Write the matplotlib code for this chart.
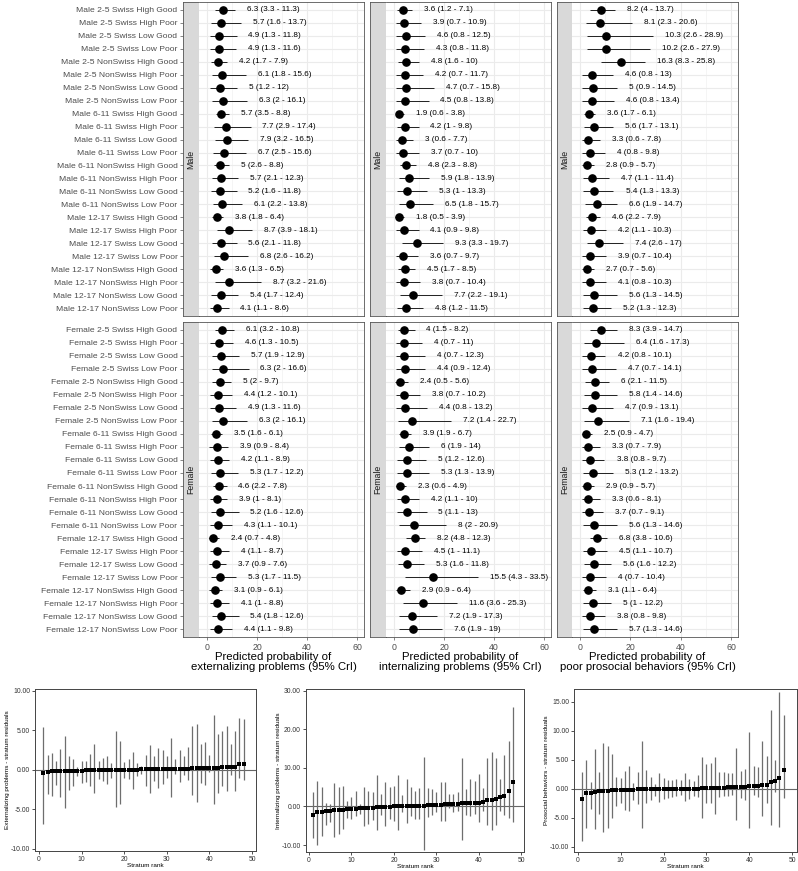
import matplotlib
matplotlib.use("Agg")
import matplotlib.pyplot as plt
from matplotlib.ticker import MultipleLocator, FormatStrFormatter

plt.rcParams['font.family'] = ['Liberation Sans', 'DejaVu Sans']

W, H = 798, 871

# strata (same order for both sexes)
strata = ["2-5 Swiss High Good", "2-5 Swiss High Poor", "2-5 Swiss Low Good", "2-5 Swiss Low Poor",
          "2-5 NonSwiss High Good", "2-5 NonSwiss High Poor", "2-5 NonSwiss Low Good", "2-5 NonSwiss Low Poor",
          "6-11 Swiss High Good", "6-11 Swiss High Poor", "6-11 Swiss Low Good", "6-11 Swiss Low Poor",
          "6-11 NonSwiss High Good", "6-11 NonSwiss High Poor", "6-11 NonSwiss Low Good", "6-11 NonSwiss Low Poor",
          "12-17 Swiss High Good", "12-17 Swiss High Poor", "12-17 Swiss Low Good", "12-17 Swiss Low Poor",
          "12-17 NonSwiss High Good", "12-17 NonSwiss High Poor", "12-17 NonSwiss Low Good", "12-17 NonSwiss Low Poor"]
sexes = ["Male", "Female"]

# externalizing (estimate, lower, upper)
ext_m_est = [6.3, 5.7, 4.9, 4.9, 4.2, 6.1, 5, 6.3, 5.7, 7.7, 7.9, 6.7, 5, 5.7, 5.2, 6.1, 3.8, 8.7, 5.6, 6.8, 3.6, 8.7, 5.4, 4.1]
ext_m_lo = [3.3, 1.6, 1.3, 1.3, 1.7, 1.8, 1.2, 2, 3.5, 2.9, 3.2, 2.5, 2.6, 2.1, 1.6, 2.2, 1.8, 3.9, 2.1, 2.6, 1.3, 3.2, 1.7, 1.1]
ext_m_hi = [11.3, 13.7, 11.8, 11.6, 7.9, 15.6, 12, 16.1, 8.8, 17.4, 16.5, 15.6, 8.8, 12.3, 11.8, 13.8, 6.4, 18.1, 11.8, 16.2, 6.5, 21.6, 12.4, 8.6]
ext_f_est = [6.1, 4.6, 5.7, 6.3, 5, 4.4, 4.9, 6.3, 3.5, 3.9, 4.2, 5.3, 4.6, 3.9, 5.2, 4.3, 2.4, 4, 3.7, 5.3, 3.1, 4.1, 5.4, 4.4]
ext_f_lo = [3.2, 1.3, 1.9, 2, 2, 1.2, 1.3, 2, 1.6, 0.9, 1.1, 1.7, 2.2, 1, 1.6, 1.1, 0.7, 1.1, 0.9, 1.7, 0.9, 1, 1.8, 1.1]
ext_f_hi = [10.8, 10.5, 12.9, 16.6, 9.7, 10.1, 11.6, 16.1, 6.1, 8.4, 8.9, 12.2, 7.8, 8.1, 12.6, 10.1, 4.8, 8.7, 7.6, 11.5, 6.1, 8.8, 12.6, 9.8]

# internalizing
int_m_est = [3.6, 3.9, 4.6, 4.3, 4.8, 4.2, 4.7, 4.5, 1.9, 4.2, 3, 3.7, 4.8, 5.9, 5.3, 6.5, 1.8, 4.1, 9.3, 3.6, 4.5, 3.8, 7.7, 4.8]
int_m_lo = [1.2, 0.7, 0.8, 0.8, 1.6, 0.7, 0.7, 0.8, 0.6, 1, 0.6, 0.7, 2.3, 1.8, 1, 1.8, 0.5, 0.9, 3.3, 0.7, 1.7, 0.7, 2.2, 1.2]
int_m_hi = [7.1, 10.9, 12.5, 11.8, 10, 11.7, 15.8, 13.8, 3.8, 9.8, 7.7, 10, 8.8, 13.9, 13.3, 15.7, 3.9, 9.8, 19.7, 9.7, 8.5, 10.4, 19.1, 11.5]
int_f_est = [4, 4, 4, 4.4, 2.4, 3.8, 4.4, 7.2, 3.9, 6, 5, 5.3, 2.3, 4.2, 5, 8, 8.2, 4.5, 5.3, 15.5, 2.9, 11.6, 7.2, 7.6]
int_f_lo = [1.5, 0.7, 0.7, 0.9, 0.5, 0.7, 0.8, 1.4, 1.9, 1.9, 1.2, 1.3, 0.6, 1.1, 1.1, 2, 4.8, 1, 1.6, 4.3, 0.9, 3.6, 1.9, 1.9]
int_f_hi = [8.2, 11, 12.3, 12.4, 5.6, 10.2, 13.2, 22.7, 6.7, 14, 12.6, 13.9, 4.9, 10, 13, 20.9, 12.3, 11.1, 11.8, 33.5, 6.4, 25.3, 17.3, 19]

# poor prosocial behaviors
pro_m_est = [8.2, 8.1, 10.3, 10.2, 16.3, 4.6, 5, 4.6, 3.6, 5.6, 3.3, 4, 2.8, 4.7, 5.4, 6.6, 4.6, 4.2, 7.4, 3.9, 2.7, 4.1, 5.6, 5.2]
pro_m_lo = [4, 2.3, 2.6, 2.6, 8.3, 0.8, 0.9, 0.8, 1.7, 1.7, 0.6, 0.8, 0.9, 1.1, 1.3, 1.9, 2.2, 1.1, 2.6, 0.7, 0.7, 0.8, 1.3, 1.3]
pro_m_hi = [13.7, 20.6, 28.9, 27.9, 25.8, 13, 14.5, 13.4, 6.1, 13.1, 7.8, 9.8, 5.7, 11.4, 13.3, 14.7, 7.9, 10.3, 17, 10.4, 5.6, 10.3, 14.5, 12.3]
pro_f_est = [8.3, 6.4, 4.2, 4.7, 6, 5.8, 4.7, 7.1, 2.5, 3.3, 3.8, 5.3, 2.9, 3.3, 3.7, 5.6, 6.8, 4.5, 5.6, 4, 3.1, 5, 3.8, 5.7]
pro_f_lo = [3.9, 1.6, 0.8, 0.7, 2.1, 1.4, 0.9, 1.6, 0.9, 0.7, 0.8, 1.2, 0.9, 0.6, 0.7, 1.3, 3.8, 1.1, 1.6, 0.7, 1.1, 1, 0.8, 1.3]
pro_f_hi = [14.7, 17.3, 10.1, 14.1, 11.5, 14.6, 13.1, 19.4, 4.7, 7.9, 9.7, 13.2, 5.7, 8.1, 9.1, 14.6, 10.6, 10.7, 12.2, 10.4, 6.4, 12.2, 9.8, 14.6]

outcome_titles = ["Predicted probability of\nexternalizing problems (95% CrI)",
                  "Predicted probability of\ninternalizing problems (95% CrI)",
                  "Predicted probability of\npoor prosocial behaviors (95% CrI)"]

# stratum residuals (ranked)
ext_res = [-0.38, -0.33, -0.2, -0.18, -0.16, -0.15, -0.14, -0.12, -0.11, -0.1,
           -0.09, -0.08, -0.07, -0.06, -0.05, -0.04, -0.03, -0.02, -0.01, 0.0,
           0.01, 0.02, 0.03, 0.04, 0.05, 0.06, 0.07, 0.08, 0.09, 0.1,
           0.11, 0.12, 0.13, 0.14, 0.15, 0.17, 0.18, 0.19, 0.2, 0.22,
           0.24, 0.27, 0.3, 0.32, 0.36, 0.4, 0.7, 0.72]
ext_res_lo = [-6.9, -3.1, -3.3, -1.9, -3.4, -4.8, -2.6, -2.0, -0.8, -1.7,
              -1.5, -2.0, -3.0, -1.2, -1.4, -1.8, -1.0, -4.7, -4.3, -1.1,
              -1.2, -2.5, -0.85, -0.5, -2.0, -2.9, -1.4, -2.3, -1.75, -1.0,
              -3.4, -0.5, -1.6, -0.7, -1.3, -3.25, -4.05, -1.7, -1.9, -0.3,
              -4.4, -3.0, -2.1, -2.65, -0.65, -2.7, -1.0, -1.3]
ext_res_hi = [5.4, 1.9, 2.1, 1.15, 2.6, 4.3, 1.8, 1.4, 0.4, 1.15,
              1.1, 2.05, 3.3, 1.15, 1.5, 1.8, 0.9, 4.9, 3.7, 1.0,
              1.4, 2.3, 0.9, 0.5, 1.9, 3.2, 1.8, 2.7, 2.5, 1.75,
              4.0, 1.4, 2.45, 1.8, 2.9, 5.6, 5.8, 3.3, 3.5, 1.9,
              6.9, 4.5, 4.9, 5.5, 3.3, 4.9, 6.5, 6.4]

int_res = [-2.2, -1.5, -1.35, -1.2, -1.1, -1.0, -0.9, -0.8, -0.7, -0.6,
           -0.55, -0.5, -0.45, -0.4, -0.35, -0.25, -0.15, -0.1, -0.05, 0.0,
           0.0, 0.05, 0.1, 0.1, 0.15, 0.15, 0.2, 0.25, 0.3, 0.35,
           0.4, 0.5, 0.55, 0.6, 0.7, 0.8, 0.85, 0.9, 0.95, 1.0,
           1.1, 1.6, 1.75, 1.8, 2.5, 2.8, 4.1, 6.3]
int_res_lo = [-8.2, -10.1, -7.7, -4.7, -4.0, -8.0, -7.1, -5.8, -3.1, -3.2,
              -2.4, -2.0, -5.1, -4.5, -3.5, -6.1, -2.2, -5.0, -3.2, -3.9,
              -6.0, -1.5, -4.3, -2.4, -3.3, -3.3, -11.3, -2.7, -2.25, -1.5,
              -3.9, -3.7, -0.5, -1.5, -1.3, -8.7, -2.25, -2.4, -2.0, -4.0,
              -1.2, -4.7, -6.0, -4.7, -1.2, -2.25, -3.1, -4.0]
int_res_hi = [3.7, 6.6, 5.0, 1.0, 0.6, 6.1, 5.0, 5.3, 1.35, 2.5,
              4.1, 0.6, 5.0, 3.9, 3.7, 8.2, 3.1, 6.3, 5.0, 5.2,
              8.2, 3.0, 7.0, 4.9, 3.9, 4.8, 12.7, 4.7, 4.5, 3.7,
              6.4, 6.3, 3.1, 3.15, 3.7, 12.5, 4.4, 7.1, 6.7, 8.5,
              4.7, 12.5, 14.0, 12.5, 7.2, 13.3, 17.0, 25.8]

pro_res = [-1.7, -0.75, -0.65, -0.5, -0.45, -0.4, -0.3, -0.25, -0.22, -0.2,
           -0.18, -0.16, -0.14, -0.12, -0.1, -0.09, -0.08, -0.07, -0.06, -0.05,
           -0.04, -0.03, -0.02, -0.01, 0.0, 0.01, 0.02, 0.04, 0.1, 0.12,
           0.14, 0.16, 0.18, 0.2, 0.22, 0.24, 0.26, 0.28, 0.3, 0.45,
           0.5, 0.5, 0.7, 0.72, 1.15, 1.3, 1.85, 3.3]
pro_res_lo = [-9.0, -6.7, -3.5, -7.0, -4.4, -7.5, -6.8, -5.1, -2.9, -2.4,
              -3.7, -3.9, -1.9, -2.7, -6.7, -2.5, -1.85, -1.3, -2.25, -1.7,
              -1.55, -1.45, -1.25, -1.0, -2.1, -1.7, -1.25, -1.45, -5.0, -2.4,
              -2.4, -4.4, -1.4, -1.3, -1.25, -1.15, -5.35, -1.55, -1.85, -6.7,
              -1.15, -1.45, -4.75, -2.5, -6.3, -0.5, -6.6, -1.6]
pro_res_hi = [2.9, 4.9, 1.2, 6.8, 2.9, 7.9, 7.4, 6.0, 2.1, 1.8,
              3.0, 3.9, 1.05, 2.9, 8.3, 3.3, 2.0, 0.9, 2.75, 1.8,
              1.45, 1.55, 1.6, 1.5, 2.75, 1.6, 1.3, 2.45, 5.5, 4.25,
              4.5, 5.4, 2.9, 2.9, 2.8, 2.8, 6.95, 3.15, 3.45, 9.8,
              4.0, 3.8, 8.2, 5.6, 13.5, 5.0, 16.7, 12.8]

res_ylabels = ["Externalizing problems - stratum residuals",
               "Internalizing problems - stratum residuals",
               "Prosocial behaviors - stratum residuals"]


def box(x0, y0, x1, y1):
    return [x0 / W, 1 - y1 / H, (x1 - x0) / W, (y1 - y0) / H]


def fmt(v):
    return "%g" % v


fig = plt.figure(figsize=(W / 100, H / 100), dpi=100)

forest = [
    [(ext_m_est, ext_m_lo, ext_m_hi), (ext_f_est, ext_f_lo, ext_f_hi)],
    [(int_m_est, int_m_lo, int_m_hi), (int_f_est, int_f_lo, int_f_hi)],
    [(pro_m_est, pro_m_lo, pro_m_hi), (pro_f_est, pro_f_lo, pro_f_hi)],
]
strip_x = [(183, 199), (370, 386), (557, 572)]
panel_x = [(199, 364), (386, 551), (572, 738)]
row_y = [(2, 316), (322, 637)]
rows = list(range(1, len(strata) + 1))
border = "#555555"

for c in range(3):
    for r in range(2):
        est, lo, hi = forest[c][r]
        y0, y1 = row_y[r]
        # strip (facet label on the left)
        sax = fig.add_axes(box(strip_x[c][0], y0, strip_x[c][1], y1))
        sax.set_facecolor("#D9D9D9")
        sax.set_xlim(0, 1)
        sax.set_ylim(len(strata) + 0.6, 0.4)
        sax.set_xticks([])
        for s in sax.spines.values():
            s.set_color(border)
            s.set_linewidth(0.6)
        sax.text(0.5, (len(strata) + 1) / 2, sexes[r], rotation=90, ha="center", va="center",
                 fontsize=6.3, color="#1A1A1A")
        if c == 0:
            sax.set_yticks(rows)
            sax.set_yticklabels([sexes[r] + " " + s for s in strata])
            sax.tick_params(axis="y", length=2.5, width=0.5, color=border, labelsize=6.1,
                            labelcolor="#4D4D4D", pad=1.5)
        else:
            sax.set_yticks([])

        ax = fig.add_axes(box(panel_x[c][0], y0, panel_x[c][1], y1))
        ax.set_xlim(-3.2, 62.8)
        ax.set_ylim(len(strata) + 0.6, 0.4)
        ax.xaxis.set_major_locator(MultipleLocator(20))
        ax.xaxis.set_minor_locator(MultipleLocator(10))
        ax.set_yticks(rows)
        ax.grid(which="major", color="#EBEBEB", linewidth=0.8)
        ax.grid(which="minor", axis="x", color="#F2F2F2", linewidth=0.5)
        ax.set_axisbelow(True)
        ax.tick_params(axis="y", left=False, labelleft=False)
        ax.tick_params(axis="x", which="minor", bottom=False)
        if r == 1:
            ax.tick_params(axis="x", which="major", length=2.5, width=0.5, color=border,
                           labelsize=6.3, labelcolor="#4D4D4D", pad=1.5)
        else:
            ax.tick_params(axis="x", which="major", bottom=False, labelbottom=False)
        for s in ax.spines.values():
            s.set_color(border)
            s.set_linewidth(0.6)
        ax.spines["left"].set_visible(False)

        ax.hlines(rows, lo, hi, color="black", linewidth=0.6)
        ax.plot(est, rows, "o", color="black", markersize=5.2)
        for yy, e, l, h in zip(rows, est, lo, hi):
            ax.text(h + 4.8, yy, "%s (%s - %s)" % (fmt(e), fmt(l), fmt(h)),
                    ha="left", va="center", fontsize=5.9, color="black")

    cx = (strip_x[c][0] + panel_x[c][1]) / 2
    fig.text(cx / W, 1 - 662 / H, outcome_titles[c], ha="center", va="center",
             fontsize=8.2, linespacing=1.05, color="black")

# residual plots
res_boxes = [(35, 688.5, 255.5, 851), (305.7, 689, 524, 852), (574, 689, 797, 852)]
res_ylim = [(-10.3, 10.3), (-11.8, 30.4), (-10.9, 17.2)]
res_xlim = [(-0.94, 50.8), (-0.77, 50.6), (-0.85, 51.1)]
res_yticks = [[-10, -5, 0, 5, 10], [-10, 0, 10, 20, 30], [-10, -5, 0, 5, 10, 15]]
res_data = [(ext_res, ext_res_lo, ext_res_hi), (int_res, int_res_lo, int_res_hi),
            (pro_res, pro_res_lo, pro_res_hi)]
ranks = list(range(1, 49))

for i in range(3):
    pt, lo, hi = res_data[i]
    bx = res_boxes[i]
    ax = fig.add_axes(box(*bx))
    ax.set_xlim(*res_xlim[i])
    ax.set_ylim(*res_ylim[i])
    ax.axhline(0, color="#666666", linewidth=0.8, zorder=1)
    ax.vlines(ranks, lo, hi, color="#6E6E6E", linewidth=0.9, zorder=2)
    ax.plot(ranks, pt, "s", color="black", markersize=2.2, markeredgewidth=0, zorder=3)
    ax.set_xticks([0, 10, 20, 30, 40, 50])
    ax.set_yticks(res_yticks[i])
    ax.yaxis.set_major_formatter(FormatStrFormatter("%.2f"))
    ax.tick_params(length=2, width=0.6, labelsize=4.9, pad=1.5, colors="#333333")
    for s in ax.spines.values():
        s.set_color("#444444")
        s.set_linewidth(0.7)
    ax.set_xlabel("Stratum rank", fontsize=4.6, labelpad=0.3)
    ax.set_ylabel(res_ylabels[i], fontsize=4.6)
    ax.yaxis.set_label_coords(-25 / (bx[2] - bx[0]), 0.5)

fig.savefig("out.png", dpi=100)
